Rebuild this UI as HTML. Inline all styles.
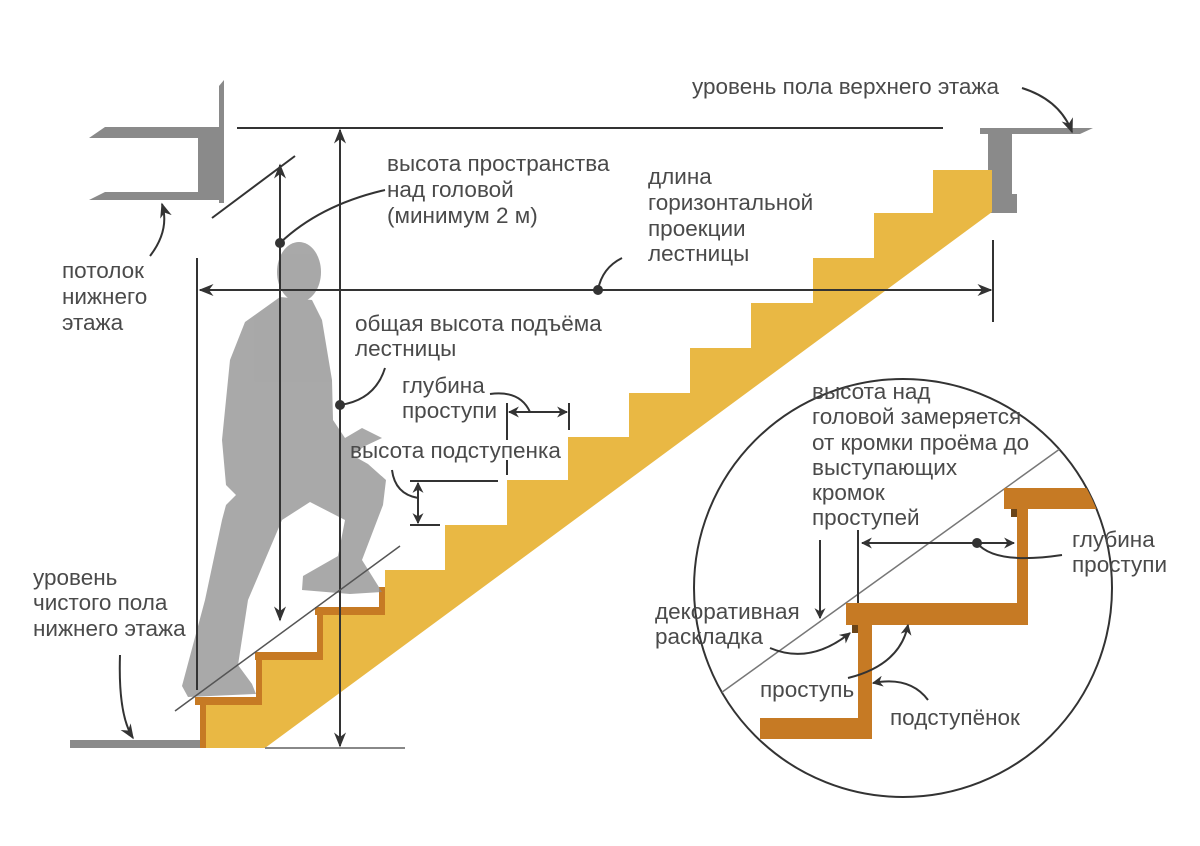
<!DOCTYPE html>
<html><head><meta charset="utf-8"><style>
html,body{margin:0;padding:0;background:#fff;}
svg{display:block;}
text{font-family:"Liberation Sans",sans-serif;font-size:22.5px;fill:#4a4a4a;}
</style></head><body>
<svg width="1200" height="846" viewBox="0 0 1200 846" xmlns="http://www.w3.org/2000/svg">
<defs>
<marker id="a" viewBox="0 0 10 10" refX="9" refY="5" markerWidth="11" markerHeight="11" orient="auto-start-reverse" markerUnits="userSpaceOnUse"><path d="M0,0 L10,5 L0,10 L3,5 z" fill="#333"/></marker>
<marker id="b" viewBox="0 0 10 10" refX="9" refY="5" markerWidth="15" markerHeight="15" orient="auto-start-reverse" markerUnits="userSpaceOnUse"><path d="M0,1 L10,5 L0,9 L3,5 z" fill="#333"/></marker>
<clipPath id="cc"><circle cx="903" cy="588" r="209"/></clipPath>
</defs>

<path d="M89,138 L105,127 L220,127 L220,200 L89,200 L105,192 L198,192 L198,138 Z" fill="#8a8a8a"/>
<path d="M219,86 L224,80 L224,203 L219,203 Z" fill="#8a8a8a"/>
<path d="M980,128 L1093,128 L1080,134 L1012,134 L1012,194 L1017,194 L1017,213 L988,213 L988,134 L980,134 Z" fill="#8a8a8a"/>

<path d="M200,748 L200,705 L262,705 L262,660 L323,660 L323,614 L385,614 L385,570 L445,570 L445,525 L507,525 L507,480 L568,480 L568,437 L629,437 L629,393 L690,393 L690,348 L751,348 L751,303 L813,303 L813,258 L874,258 L874,213 L933,213 L933,170 L992,170 L992,212 L265,748 Z" fill="#e9b844"/>
<g fill="#c67a24">
<rect x="195" y="697" width="67" height="8"/>
<rect x="200" y="705" width="6" height="43"/>
<rect x="255" y="652" width="68" height="8"/>
<rect x="256" y="660" width="6" height="37"/>
<rect x="315" y="607" width="70" height="8"/>
<rect x="317" y="615" width="6" height="37"/>
<rect x="379" y="587" width="6" height="20"/>
</g>

<rect x="70" y="740" width="130" height="8" fill="#8a8a8a"/>
<line x1="265" y1="748" x2="405" y2="748" stroke="#888" stroke-width="2"/>

<g fill="#8c8c8c" opacity="0.75">
<ellipse cx="299" cy="272" rx="22" ry="30"/>
<path d="M280,297 L312,300 L322,320 L332,380 L333,420 L345,438 L362,428 L382,438 L365,446 L352,455 L368,464 L386,480 L383,505 L362,560 L372,576 L382,592 L350,594 L302,590 L303,576 L338,556 L345,520 L310,502 L282,520 L248,600 L238,665 L252,684 L256,694 L188,697 L182,686 L205,600 L222,520 L226,505 L236,495 L226,485 L222,440 L230,360 L245,322 Z"/>
</g>

<g stroke="#333" stroke-width="2" fill="none">
<line x1="237" y1="128" x2="943" y2="128"/>
<line x1="340" y1="130" x2="340" y2="746" marker-start="url(#b)" marker-end="url(#b)"/>
<line x1="280" y1="165" x2="280" y2="620" marker-start="url(#b)" marker-end="url(#b)"/>
<line x1="212" y1="218" x2="295" y2="156"/>
<line x1="200" y1="290" x2="991" y2="290" marker-start="url(#b)" marker-end="url(#b)"/>
<line x1="197" y1="258" x2="197" y2="690"/>
<line x1="993" y1="240" x2="993" y2="322"/>
<line x1="507" y1="403" x2="507" y2="440"/>
<line x1="507" y1="460" x2="507" y2="475"/>
<line x1="569" y1="403" x2="569" y2="430"/>
<line x1="509" y1="412" x2="567" y2="412" marker-start="url(#a)" marker-end="url(#a)"/>
<line x1="410" y1="481" x2="498" y2="481"/>
<line x1="410" y1="525" x2="440" y2="525"/>
<line x1="418" y1="483" x2="418" y2="523" marker-start="url(#a)" marker-end="url(#a)"/>
</g>
<line x1="175" y1="711" x2="400" y2="546" stroke="#555" stroke-width="1.5"/>
<g fill="#333">
<circle cx="280" cy="243" r="5"/>
<circle cx="598" cy="290" r="5"/>
<circle cx="340" cy="405" r="5"/>
</g>

<g stroke="#333" stroke-width="2" fill="none">
<path d="M1022,88 Q1060,100 1072,132" marker-end="url(#b)"/>
<path d="M280,243 Q320,205 385,190"/>
<path d="M598,290 Q602,268 622,258"/>
<path d="M150,256 Q170,230 162,204" marker-end="url(#b)"/>
<path d="M340,405 Q375,400 385,368"/>
<path d="M490,394 Q520,390 530,412"/>
<path d="M392,470 Q395,494 418,498"/>
<path d="M120,655 Q118,715 133,738" marker-end="url(#b)"/>
</g>

<circle cx="903" cy="588" r="209" fill="none" stroke="#333" stroke-width="2"/>
<g clip-path="url(#cc)">
<line x1="700" y1="708" x2="1100" y2="420" stroke="#777" stroke-width="1.5"/>
<g fill="#c67a24">
<rect x="1004" y="488" width="110" height="21"/>
<rect x="1017" y="509" width="11" height="116"/>
<rect x="846" y="603" width="182" height="22"/>
<rect x="858" y="625" width="14" height="114"/>
<rect x="760" y="718" width="98" height="21"/>
</g>
<g fill="#6a4418">
<rect x="852" y="625" width="6" height="8"/>
<rect x="1011" y="509" width="6" height="8"/>
</g>
</g>
<g stroke="#333" stroke-width="2" fill="none">
<line x1="858" y1="530" x2="858" y2="603"/>
<line x1="862" y1="543" x2="1014" y2="543" marker-start="url(#a)" marker-end="url(#a)"/>
<line x1="820" y1="540" x2="820" y2="618" marker-end="url(#a)"/>
<path d="M977,543 Q995,565 1062,555"/>
<path d="M770,648 Q810,665 850,633" marker-end="url(#a)"/>
<path d="M848,678 Q900,665 908,625" marker-end="url(#a)"/>
<path d="M928,700 Q910,676 873,683" marker-end="url(#a)"/>
</g>
<circle cx="977" cy="543" r="5" fill="#333"/>

<text x="692" y="94">уровень пола верхнего этажа</text>
<text x="387" y="171">высота пространства</text>
<text x="387" y="197">над головой</text>
<text x="387" y="223">(минимум 2 м)</text>
<text x="648" y="184">длина</text>
<text x="648" y="210">горизонтальной</text>
<text x="648" y="236">проекции</text>
<text x="648" y="261">лестницы</text>
<text x="62" y="278">потолок</text>
<text x="62" y="304">нижнего</text>
<text x="62" y="330">этажа</text>
<text x="355" y="331">общая высота подъёма</text>
<text x="355" y="356">лестницы</text>
<text x="402" y="393">глубина</text>
<text x="402" y="418">проступи</text>
<text x="350" y="458">высота подступенка</text>
<text x="33" y="585">уровень</text>
<text x="33" y="610">чистого пола</text>
<text x="33" y="636">нижнего этажа</text>
<text x="812" y="399">высота над</text>
<text x="812" y="424">головой замеряется</text>
<text x="812" y="450">от кромки проёма до</text>
<text x="812" y="475">выступающих</text>
<text x="812" y="500">кромок</text>
<text x="812" y="525">проступей</text>
<text x="1072" y="547">глубина</text>
<text x="1072" y="572">проступи</text>
<text x="655" y="619">декоративная</text>
<text x="655" y="644">раскладка</text>
<text x="760" y="697">проступь</text>
<text x="890" y="725">подступёнок</text>
</svg>
</body></html>
